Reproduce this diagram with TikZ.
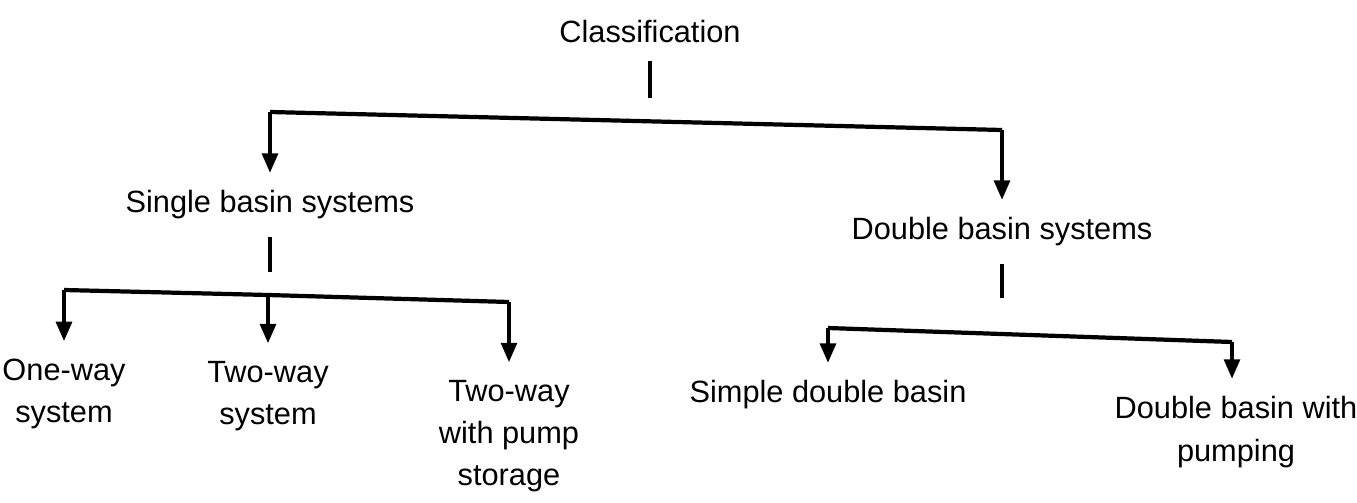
\documentclass[tikz,border=0pt]{standalone}
\usepackage{fontspec}
\setmainfont{Liberation Sans}
\usetikzlibrary{arrows.meta}
\begin{document}
\begin{tikzpicture}[x=0.02cm,y=-0.02cm,
    lbl/.style={inner sep=2pt,align=center,font=\fontsize{17.5}{24}\selectfont},
    bar/.style={line width=2.4pt},
    arr/.style={line width=2pt,-{Triangle[length=11pt,width=9pt]},shorten >=8pt},
    stem/.style={line width=2pt,shorten <=8pt}]
    \useasboundingbox (0,0) rectangle (1357,503);
    % labels
    \node[lbl] (cls) at (650,32) {Classification};
    \node[lbl] (single) at (270,205) {Single basin systems};
    \node[lbl] (double) at (1002,232) {Double basin systems};
    \node[lbl] (one) at (64,394) {One-way\\system};
    \node[lbl] (two) at (268,396) {Two-way\\system};
    \node[lbl] (pump) at (509,436) {Two-way\\with pump\\storage};
    \node[lbl] (simple) at (828,395) {Simple double basin};
    \node[lbl] (dpump) at (1236,432) {Double basin with\\pumping};
    % junctions
    \coordinate (s1) at (650,98);
    \coordinate (b1l) at (270,112);
    \coordinate (b1r) at (1002,130);
    \coordinate (s2) at (270,272);
    \coordinate (b2l) at (64,290);
    \coordinate (b2m) at (268,295);
    \coordinate (b2r) at (509,302);
    \coordinate (s3) at (1002,298);
    \coordinate (b3l) at (828,328);
    \coordinate (b3r) at (1232,342);
    % top level
    \draw[stem] (cls) -- (s1);
    \draw[bar] (b1l) -- (b1r);
    \draw[arr] (b1l) -- (single);
    \draw[arr] (b1r) -- (double);
    % single basin
    \draw[stem] (single) -- (s2);
    \draw[bar] (b2l) -- (b2m) -- (b2r);
    \draw[arr] (b2l) -- (one);
    \draw[arr] (b2m) -- (two);
    \draw[arr] (b2r) -- (pump);
    % double basin
    \draw[stem] (double) -- (s3);
    \draw[bar] (b3l) -- (b3r);
    \draw[arr] (b3l) -- (simple);
    \draw[arr] (b3r) -- (b3r |- dpump.north);
  \end{tikzpicture}
\end{document}
